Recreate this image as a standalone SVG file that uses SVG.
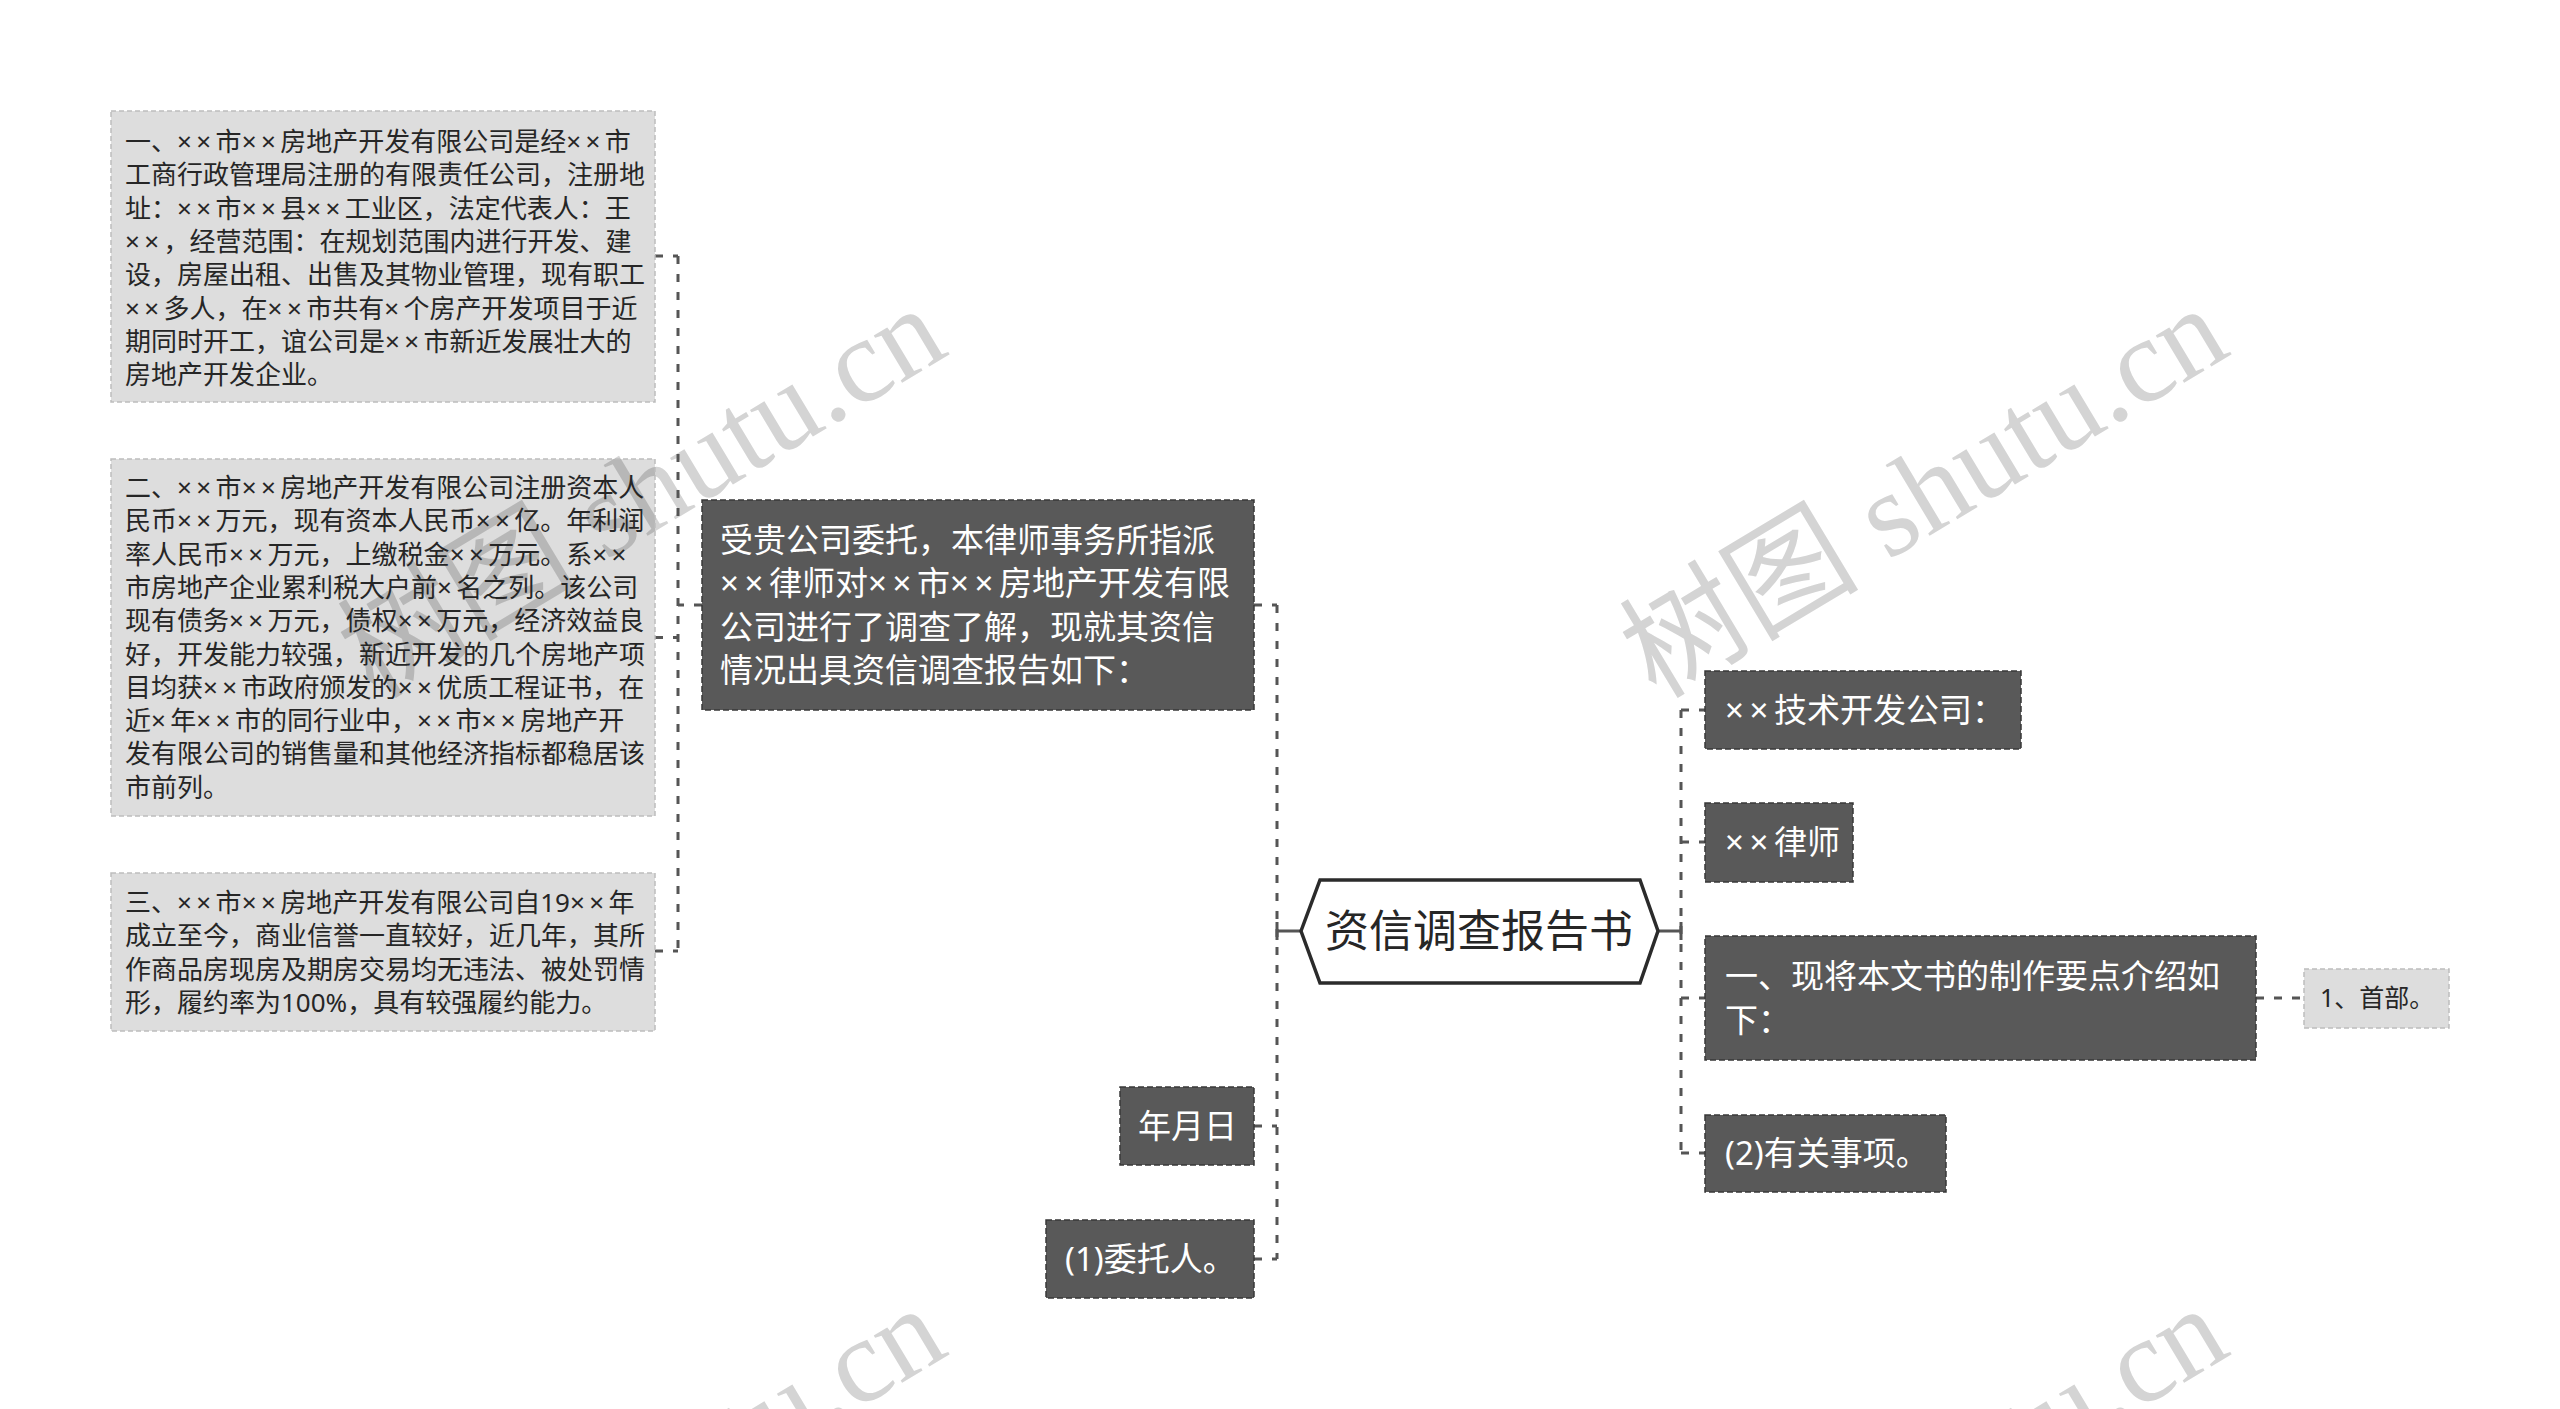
<svg xmlns="http://www.w3.org/2000/svg" width="2560" height="1409" viewBox="0 0 2560 1409">
<style>
.wm{font-family:"Liberation Serif","Noto Sans CJK SC",serif;font-size:120px;fill:#d4d4d4}
.lb rect{fill:#000;fill-opacity:0.135;stroke:#bdbdbd;stroke-width:1.5;stroke-dasharray:5 3}
.lb text{font-family:"Noto Sans","Noto Sans CJK SC",sans-serif;font-size:26px;fill:#262626}
.dk rect{fill:#595959;stroke:#383838;stroke-width:1.5;stroke-dasharray:6 3}
.dk text{font-family:"Noto Sans","Noto Sans CJK SC",sans-serif;font-size:33px;fill:#ffffff}
.x{letter-spacing:0.17em}
.conn path{fill:none;stroke:#555555;stroke-width:3;stroke-dasharray:8 10}
.conn path.solid{stroke-dasharray:none}
</style>
<rect width="2560" height="1409" fill="#ffffff"/>
<g id="watermarks">
<text class="wm" transform="translate(374,700) rotate(-31)">树图 shutu.cn</text>
<text class="wm" transform="translate(1656,700) rotate(-31)">树图 shutu.cn</text>
<text class="wm" transform="translate(374,1700) rotate(-31)">树图 shutu.cn</text>
<text class="wm" transform="translate(1656,1700) rotate(-31)">树图 shutu.cn</text>
</g>
<g id="connectors" class="conn">
<path class="solid" d="M1301,931 H1277 M1277,922 V940"/>
<path d="M1277,605 V1259"/>
<path d="M1254,605 H1277"/>
<path d="M1254,1126 H1277"/>
<path d="M1254,1259 H1277"/>
<path d="M702,605 H678"/>
<path d="M678,256 V951"/>
<path d="M655,256 H678"/>
<path d="M655,637.5 H678"/>
<path d="M655,951 H678"/>
<path class="solid" d="M1658,931 H1681 M1681,922 V940"/>
<path d="M1681,710 V1153"/>
<path d="M1681,710 H1705"/>
<path d="M1681,842 H1705"/>
<path d="M1681,998 H1705"/>
<path d="M1681,1153 H1705"/>
<path d="M2256,998 H2304"/>
</g>
<g id="root">
<polygon points="1301,931 1320,880 1640,880 1658,931 1640,983 1320,983" fill="#ffffff" stroke="#2b2b2b" stroke-width="3.5"/>
<text x="1479" y="947" text-anchor="middle" font-family="Noto Sans CJK SC, sans-serif" font-size="44" fill="#262626">资信调查报告书</text>
</g>
<g id="node-intro" class="dk">
<rect x="702" y="500" width="552" height="210"/>
<text x="720" y="551.5">受贵公司委托，本律师事务所指派</text>
<text x="720" y="595"><tspan class="x">××</tspan>律师对<tspan class="x">××</tspan>市<tspan class="x">××</tspan>房地产开发有限</text>
<text x="720" y="638.5">公司进行了调查了解，现就其资信</text>
<text x="720" y="682">情况出具资信调查报告如下：</text>
</g>
<g id="node-item1" class="lb">
<rect x="111" y="111" width="544" height="291"/>
<text x="125" y="151">一、<tspan class="x">××</tspan>市<tspan class="x">××</tspan>房地产开发有限公司是经<tspan class="x">××</tspan>市</text>
<text x="125" y="184.3">工商行政管理局注册的有限责任公司，注册地</text>
<text x="125" y="217.6">址：<tspan class="x">××</tspan>市<tspan class="x">××</tspan>县<tspan class="x">××</tspan>工业区，法定代表人：王</text>
<text x="125" y="250.9"><tspan class="x">××</tspan>，经营范围：在规划范围内进行开发、建</text>
<text x="125" y="284.2">设，房屋出租、出售及其物业管理，现有职工</text>
<text x="125" y="317.5"><tspan class="x">××</tspan>多人，在<tspan class="x">××</tspan>市共有<tspan class="x">×</tspan>个房产开发项目于近</text>
<text x="125" y="350.8">期同时开工，谊公司是<tspan class="x">××</tspan>市新近发展壮大的</text>
<text x="125" y="384.1">房地产开发企业。</text>
</g>
<g id="node-item2" class="lb">
<rect x="111" y="459" width="544" height="357"/>
<text x="125" y="497">二、<tspan class="x">××</tspan>市<tspan class="x">××</tspan>房地产开发有限公司注册资本人</text>
<text x="125" y="530.3">民币<tspan class="x">××</tspan>万元，现有资本人民币<tspan class="x">××</tspan>亿。年利润</text>
<text x="125" y="563.6">率人民币<tspan class="x">××</tspan>万元，上缴税金<tspan class="x">××</tspan>万元。系<tspan class="x">××</tspan></text>
<text x="125" y="596.9">市房地产企业累利税大户前<tspan class="x">×</tspan>名之列。该公司</text>
<text x="125" y="630.2">现有债务<tspan class="x">××</tspan>万元，债权<tspan class="x">××</tspan>万元，经济效益良</text>
<text x="125" y="663.5">好，开发能力较强，新近开发的几个房地产项</text>
<text x="125" y="696.8">目均获<tspan class="x">××</tspan>市政府颁发的<tspan class="x">××</tspan>优质工程证书，在</text>
<text x="125" y="730.1">近<tspan class="x">×</tspan>年<tspan class="x">××</tspan>市的同行业中，<tspan class="x">××</tspan>市<tspan class="x">××</tspan>房地产开</text>
<text x="125" y="763.4">发有限公司的销售量和其他经济指标都稳居该</text>
<text x="125" y="796.7">市前列。</text>
</g>
<g id="node-item3" class="lb">
<rect x="111" y="873" width="544" height="158"/>
<text x="125" y="912">三、<tspan class="x">××</tspan>市<tspan class="x">××</tspan>房地产开发有限公司自19<tspan class="x">××</tspan>年</text>
<text x="125" y="945.3">成立至今，商业信誉一直较好，近几年，其所</text>
<text x="125" y="978.6">作商品房现房及期房交易均无违法、被处罚情</text>
<text x="125" y="1011.9">形，履约率为100%，具有较强履约能力。</text>
</g>
<g id="node-date" class="dk">
<rect x="1120" y="1087" width="134" height="78"/>
<text x="1138" y="1137.5">年月日</text>
</g>
<g id="node-client" class="dk">
<rect x="1046" y="1220" width="208" height="78"/>
<text x="1065" y="1270.5">(1)委托人。</text>
</g>
<g id="node-company" class="dk">
<rect x="1705" y="671" width="316" height="78"/>
<text x="1725" y="721.5"><tspan class="x">××</tspan>技术开发公司：</text>
</g>
<g id="node-lawyer" class="dk">
<rect x="1705" y="803" width="148" height="79"/>
<text x="1725" y="853.5"><tspan class="x">××</tspan>律师</text>
</g>
<g id="node-points" class="dk">
<rect x="1705" y="936" width="551" height="124"/>
<text x="1725" y="987.5">一、现将本文书的制作要点介绍如</text>
<text x="1725" y="1031.5">下：</text>
</g>
<g id="node-matters" class="dk">
<rect x="1705" y="1115" width="241" height="77"/>
<text x="1725" y="1165">(2)有关事项。</text>
</g>
<g id="node-head" class="lb">
<rect x="2304" y="969" width="145" height="59"/>
<text x="2320" y="1007" style="font-size:25px">1、首部。</text>
</g>
</svg>
